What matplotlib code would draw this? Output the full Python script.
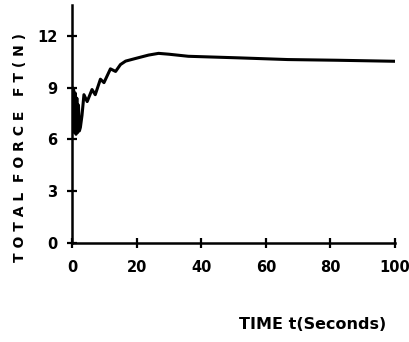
import matplotlib.pyplot as plt
import numpy as np

# total force
t = [0.0, 0.25, 0.5, 0.75, 1.0, 1.25, 1.5, 1.75, 2.0, 2.3, 2.6, 3.1, 3.7, 4.7, 6.2,
     7.2, 8.8, 9.9, 11.9, 13.5, 15.0, 16.6, 19.6, 23.7, 26.8, 30.0, 36.0, 51.4,
     66.8, 82.0, 100.0]
force = [9.0, 6.6, 8.9, 6.4, 8.7, 6.3, 8.4, 6.4, 8.0, 6.5, 6.7, 7.4, 8.6, 8.2, 8.9,
         8.6, 9.5, 9.3, 10.1, 9.95, 10.35, 10.55, 10.7, 10.9, 11.0, 10.95, 10.83, 10.74,
         10.64, 10.6, 10.54]

xticks = [0, 20, 40, 60, 80, 100]
yticks = [0, 3, 6, 9, 12]

fig = plt.figure(figsize=(4.09, 3.42), dpi=100)
ax = fig.add_axes([0.176, 0.29, 0.79, 0.695])

ax.plot(t, force, color='black', lw=2.2)

ax.set_xlim(0, 100)
ax.set_ylim(0, 13.8)
ax.set_xticks(xticks)
ax.set_yticks(yticks)
ax.spines['top'].set_visible(False)
ax.spines['right'].set_visible(False)
ax.spines['left'].set_linewidth(1.8)
ax.spines['bottom'].set_linewidth(1.8)
ax.tick_params(direction='inout', length=7, width=1.6, labelsize=10.5)
ax.tick_params(axis='x', pad=9)
ax.tick_params(axis='y', pad=7)
for lab in ax.get_xticklabels() + ax.get_yticklabels():
    lab.set_fontweight('bold')

fig.text(0.05, 0.57, 'T O T A L  F O R C E   F T ( N )', rotation=90,
         ha='center', va='center', fontsize=10, fontweight='bold')
fig.text(0.765, 0.05, 'TIME t(Seconds)', ha='center', va='center',
         fontsize=11.5, fontweight='bold')

fig.savefig('out.png', dpi=100)
